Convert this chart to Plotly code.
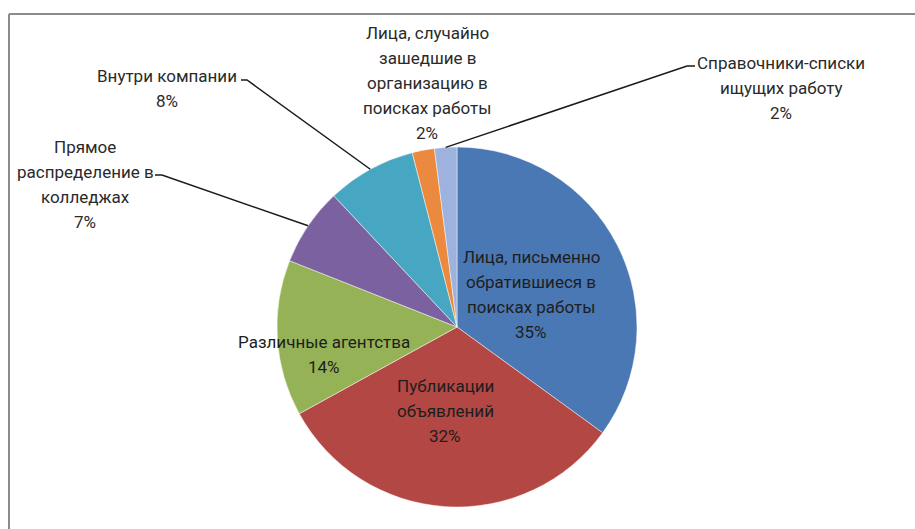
import math
import plotly.graph_objects as go

# ---- data ----
categories = [
    "Лица, письменно обратившиеся в поисках работы",
    "Публикации объявлений",
    "Различные агентства",
    "Прямое распределение в колледжах",
    "Внутри компании",
    "Лица, случайно зашедшие в организацию в поисках работы",
    "Справочники-списки ищущих работу",
]
label_lines = [
    ["Лица, письменно", "обратившиеся в", "поисках работы"],
    ["Публикации", "объявлений"],
    ["Различные агентства"],
    ["Прямое", "распределение в", "колледжах"],
    ["Внутри компании"],
    ["Лица, случайно", "зашедшие в", "организацию в", "поисках работы"],
    ["Справочники-списки", "ищущих работу"],
]
values = [35, 32, 14, 7, 8, 2, 2]

colors = ["#4A78B4", "#B34744", "#95B257", "#7B61A0", "#47A7C3", "#EB8A3E", "#9DB2DC"]

# ---- layout constants (pixels) ----
W, H = 915, 529
CX, CY, R = 457, 327, 180
LINE_H = 25

def px(x):
    return x / W

def py(y):
    return 1 - y / H

# label block centers (pixels) and leader line start points
label_pos = [(531, 294), (445, 411), (324, 354), (85, 184), (167, 89), (427, 83), (781, 88)]
leaders = {
    3: [(155, 175), (162, 175)],
    4: [(241, 80), (247, 80)],
    6: [(695, 66), (687, 66)],
}
inside = {0, 1, 2}

fig = go.Figure(go.Pie(
    labels=categories,
    values=values,
    sort=False,
    direction="clockwise",
    rotation=0,
    textinfo="none",
    hoverinfo="label+percent",
    marker=dict(colors=colors, line=dict(color="rgba(255,255,255,0.6)", width=0.8)),
    domain=dict(x=[px(CX - R), px(CX + R)], y=[py(CY + R), py(CY - R)]),
    showlegend=False,
))

total = sum(values)
annotations = []
shapes = []
cum = 0
for i, v in enumerate(values):
    mid = (cum + v / 2) / total * 2 * math.pi
    cum += v
    pct = f"{round(v / total * 100)}%"
    lx, ly = label_pos[i]
    lines = label_lines[i] + [pct]
    n = len(lines)
    for k, line in enumerate(lines):
        yy = ly + (k - (n - 1) / 2) * LINE_H
        annotations.append(dict(
            x=px(lx), y=py(yy), xref="paper", yref="paper",
            text=line, showarrow=False,
            xanchor="center", yanchor="middle", align="center",
            font=dict(family="Roboto, Open Sans, sans-serif", size=17,
                      color="#1e1e1e" if i in inside else "#2a2a2a"),
        ))
    if i in leaders:
        ex = CX + R * math.sin(mid)
        ey = CY - R * math.cos(mid)
        pts = leaders[i] + [(ex, ey)]
        path = "M " + " L ".join(f"{px(x)},{py(y)}" for x, y in pts)
        shapes.append(dict(type="path", path=path, xref="paper", yref="paper",
                           line=dict(color="#1a1a1a", width=1.5)))

# chart frame (top and left edges visible)
shapes.append(dict(type="line", xref="paper", yref="paper",
                   x0=px(9), y0=py(14), x1=1, y1=py(14),
                   line=dict(color="#8c8c8c", width=2)))
shapes.append(dict(type="line", xref="paper", yref="paper",
                   x0=px(9), y0=py(14), x1=px(9), y1=0,
                   line=dict(color="#8c8c8c", width=2)))

fig.update_layout(
    width=W, height=H, autosize=False,
    margin=dict(l=0, r=0, t=0, b=0),
    paper_bgcolor="white", plot_bgcolor="white",
    annotations=annotations, shapes=shapes,
)

fig.write_html("out.html")
